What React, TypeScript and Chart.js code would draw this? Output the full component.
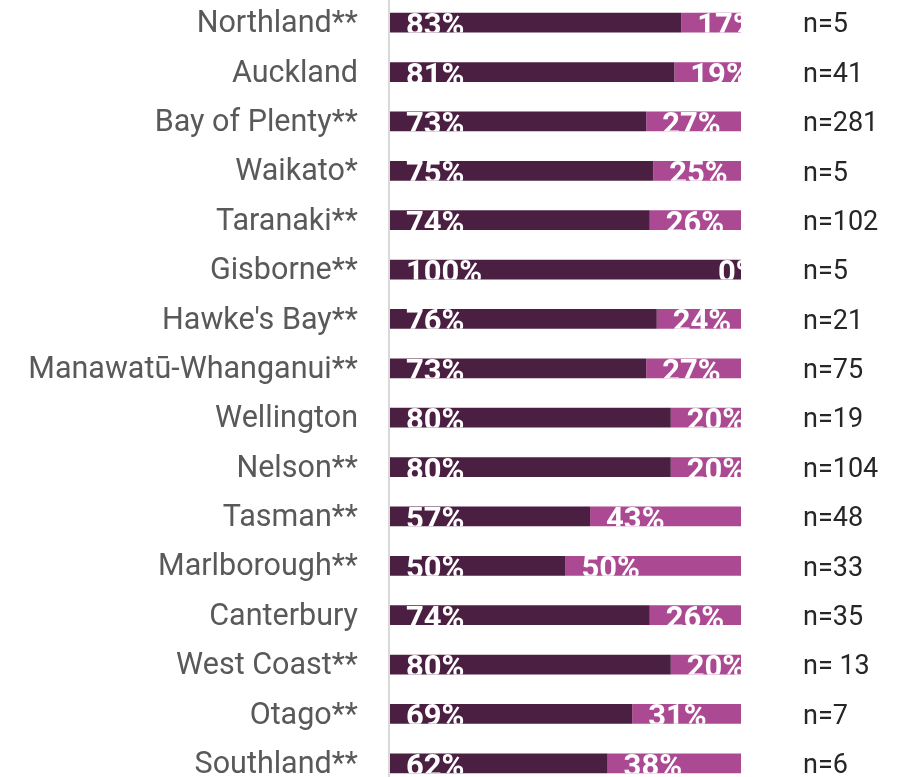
import React, { useEffect, useRef } from "react";
import { Chart, registerables } from "chart.js";

Chart.register(...registerables);

const categories = [
  "Northland**",
  "Auckland",
  "Bay of Plenty**",
  "Waikato*",
  "Taranaki**",
  "Gisborne**",
  "Hawke's Bay**",
  "Manawatū-Whanganui**",
  "Wellington",
  "Nelson**",
  "Tasman**",
  "Marlborough**",
  "Canterbury",
  "West Coast**",
  "Otago**",
  "Southland**",
];

const darkValues = [83, 81, 73, 75, 74, 100, 76, 73, 80, 80, 57, 50, 74, 80, 69, 62];
const lightValues = [17, 19, 27, 25, 26, 0, 24, 27, 20, 20, 43, 50, 26, 20, 31, 38];

const nLabels = [
  "n=5",
  "n=41",
  "n=281",
  "n=5",
  "n=102",
  "n=5",
  "n=21",
  "n=75",
  "n=19",
  "n=104",
  "n=48",
  "n=33",
  "n=35",
  "n= 13",
  "n=7",
  "n=6",
];

const DARK = "#4b1f41";
const LIGHT = "#ab4a93";

const barLabelPlugin = {
  id: "barLabels",
  afterDatasetsDraw(chart: any) {
    const { ctx, chartArea } = chart;
    const fs = 31;
    ctx.save();
    ctx.font = `bold ${fs}px Roboto, "Noto Sans", sans-serif`;
    ctx.fillStyle = "#ffffff";
    ctx.textAlign = "left";
    ctx.textBaseline = "alphabetic";
    chart.data.datasets.forEach((ds: any, di: number) => {
      const meta = chart.getDatasetMeta(di);
      meta.data.forEach((el: any, i: number) => {
        const p = el.getProps(["x", "y", "base", "height"], true);
        const top = p.y - p.height / 2;
        const start = Math.min(p.base, p.x);
        let tx = start + 16;
        tx = Math.min(tx, chartArea.right - 23);
        ctx.save();
        ctx.beginPath();
        ctx.rect(chartArea.left, top, chartArea.right - chartArea.left, p.height);
        ctx.clip();
        ctx.fillText(ds.data[i] + "%", tx, top + fs * 0.72);
        ctx.restore();
      });
    });
    ctx.restore();
  },
};

const axisLinePlugin = {
  id: "axisLine",
  beforeDatasetsDraw(chart: any) {
    const { ctx, chartArea } = chart;
    ctx.save();
    ctx.fillStyle = "#d9d9d9";
    ctx.fillRect(chartArea.left - 2, 0, 2, chart.height);
    ctx.restore();
  },
};

export default function App() {
  const ref = useRef<HTMLCanvasElement | null>(null);

  useEffect(() => {
    if (!ref.current) return;
    const chart = new Chart(ref.current, {
      type: "bar",
      data: {
        labels: categories,
        datasets: [
          {
            label: "A",
            data: darkValues,
            backgroundColor: DARK,
            borderWidth: 0,
            barPercentage: 0.4,
            categoryPercentage: 1,
          },
          {
            label: "B",
            data: lightValues,
            backgroundColor: LIGHT,
            borderWidth: 0,
            barPercentage: 0.4,
            categoryPercentage: 1,
          },
        ],
      },
      options: {
        indexAxis: "y",
        responsive: false,
        animation: false,
        devicePixelRatio: 1,
        layout: { padding: 0 },
        plugins: {
          legend: { display: false },
          tooltip: { enabled: false },
          title: { display: false },
        },
        scales: {
          x: {
            stacked: true,
            min: 0,
            max: 100,
            display: false,
          },
          y: {
            stacked: true,
            position: "left",
            grid: { display: false, drawTicks: false },
            border: { display: false },
            ticks: {
              autoSkip: false,
              padding: 32,
              labelOffset: 2,
              color: "#595959",
              font: { family: "Roboto", size: 30.5, weight: "normal" },
            },
            afterFit: (s: any) => {
              s.width = 390;
              s.paddingTop = 0;
              s.paddingBottom = 0;
            },
          },
          y2: {
            type: "category",
            labels: nLabels,
            position: "right",
            offset: true,
            grid: { display: false, drawTicks: false },
            border: { display: false },
            ticks: {
              autoSkip: false,
              padding: 62,
              labelOffset: 3,
              color: "#262626",
              font: { family: "Roboto", size: 27, weight: "normal" },
            },
            afterFit: (s: any) => {
              s.width = 161;
              s.paddingTop = 0;
              s.paddingBottom = 0;
            },
          },
        },
      } as any,
      plugins: [axisLinePlugin, barLabelPlugin],
    });
    return () => chart.destroy();
  }, []);

  return (
    <div
      style={{
        position: "fixed",
        left: 0,
        top: 0,
        width: 902,
        height: 777,
        overflow: "hidden",
        background: "#fff",
      }}
    >
      <canvas
        ref={ref}
        width={902}
        height={790}
        style={{ position: "absolute", left: 0, top: -2, width: 902, height: 790 }}
      />
    </div>
  );
}
